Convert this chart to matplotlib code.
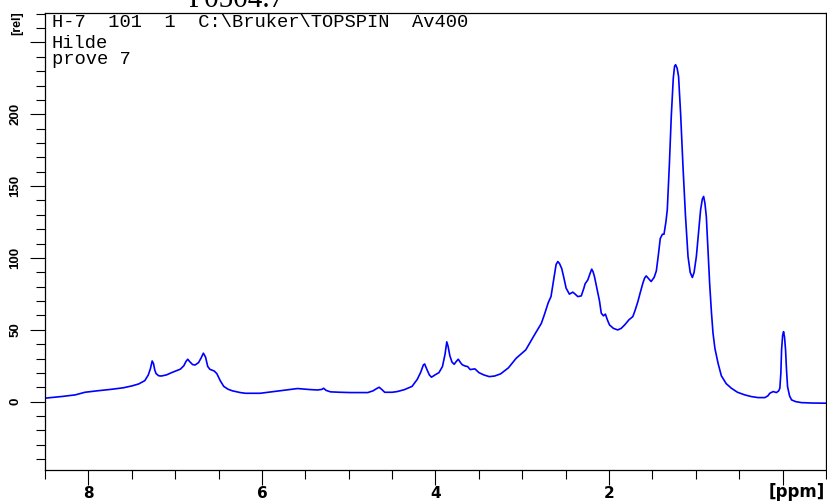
import matplotlib
matplotlib.use('Agg')
import matplotlib.pyplot as plt
from matplotlib.ticker import MultipleLocator, FixedLocator

# 1H NMR spectrum (ppm, intensity)
ppm = [8.50, 8.30, 8.15, 8.04, 7.90, 7.73, 7.60, 7.50, 7.42, 7.35,
       7.31, 7.285, 7.265, 7.25, 7.235, 7.22, 7.19, 7.16, 7.10, 7.04,
       6.94, 6.90, 6.875, 6.855, 6.835, 6.80, 6.77, 6.73, 6.70, 6.675,
       6.65, 6.625, 6.60, 6.55, 6.52, 6.48, 6.44, 6.39, 6.34, 6.25,
       6.19, 6.02, 5.86, 5.72, 5.59, 5.45, 5.36, 5.31, 5.29, 5.26,
       5.21, 5.10, 4.98, 4.78, 4.72, 4.68, 4.65, 4.62, 4.585, 4.50,
       4.44, 4.36, 4.32, 4.27, 4.21, 4.17, 4.14, 4.125, 4.10, 4.07,
       4.046, 4.00, 3.96, 3.92, 3.89, 3.87, 3.855, 3.835, 3.81, 3.785,
       3.76, 3.738, 3.71, 3.69, 3.66, 3.63, 3.60, 3.57, 3.546, 3.50,
       3.44, 3.38, 3.32, 3.25, 3.16, 3.07, 2.96, 2.86, 2.78, 2.746,
       2.70, 2.669, 2.645, 2.63, 2.61, 2.59, 2.57, 2.545, 2.52, 2.495,
       2.457, 2.418, 2.39, 2.36, 2.32, 2.29, 2.276, 2.245, 2.22, 2.20,
       2.185, 2.168, 2.137, 2.11, 2.09, 2.065, 2.042, 2.02, 1.995, 1.95,
       1.90, 1.86, 1.82, 1.77, 1.726, 1.70, 1.668, 1.64, 1.61, 1.59,
       1.572, 1.55, 1.515, 1.48, 1.455, 1.43, 1.41, 1.385, 1.367, 1.345,
       1.329, 1.305, 1.283, 1.26, 1.245, 1.233, 1.215, 1.199, 1.175, 1.148,
       1.12, 1.09, 1.065, 1.04, 1.02, 0.994, 0.97, 0.945, 0.925, 0.91,
       0.895, 0.879, 0.86, 0.841, 0.82, 0.802, 0.78, 0.744, 0.706, 0.65,
       0.59, 0.52, 0.437, 0.36, 0.282, 0.205, 0.17, 0.148, 0.109, 0.071,
       0.045, 0.032, 0.02, 0.012, 0.00, -0.011, -0.022, -0.034, -0.045, -0.057,
       -0.08, -0.103, -0.15, -0.218, -0.35, -0.51]
intensity = [2.4, 3.6, 4.7, 6.5, 7.5, 8.6, 9.6, 10.9, 12.3, 14.6,
             18.5, 23.0, 28.3, 26.5, 22.0, 19.5, 18.0, 17.8, 18.6, 20.2,
             22.6, 25.0, 28.0, 29.5, 28.0, 25.8, 25.5, 27.2, 30.5, 33.7,
             31.0, 24.5, 22.5, 21.3, 19.5, 14.5, 10.6, 8.6, 7.5, 6.3,
             5.8, 5.8, 7.0, 8.0, 9.1, 8.4, 8.1, 8.5, 9.3, 7.8,
             6.8, 6.5, 6.3, 6.3, 7.5, 9.0, 10.0, 8.5, 6.5, 6.5,
             7.0, 8.3, 9.3, 10.6, 15.5, 20.5, 25.5, 26.2, 22.5, 18.5,
             17.0, 18.8, 20.2, 24.4, 33.0, 41.6, 38.5, 32.0, 27.5, 26.0,
             28.0, 29.5, 27.0, 25.6, 24.8, 24.4, 22.3, 22.6, 22.8, 20.2,
             18.5, 17.4, 17.8, 19.3, 23.5, 30.2, 36.0, 46.4, 54.5, 60.4,
             69.0, 73.1, 82.0, 88.0, 95.5, 97.5, 96.0, 92.5, 86.0, 79.0,
             74.8, 76.2, 74.8, 73.1, 73.6, 79.0, 82.0, 84.7, 89.0, 92.2,
             90.5, 87.0, 77.8, 70.0, 61.6, 59.7, 60.9, 57.0, 53.4, 51.0,
             49.9, 51.0, 53.4, 57.0, 59.2, 63.5, 69.6, 76.0, 82.5, 86.0,
             87.5, 86.0, 83.6, 86.5, 91.0, 103.0, 113.5, 116.5, 116.5, 125.0,
             133.5, 165.0, 198.5, 225.0, 233.5, 234.5, 232.0, 226.3, 200.0, 163.6,
             130.0, 101.0, 90.0, 86.4, 90.0, 101.0, 117.0, 133.5, 141.0, 142.8,
             138.0, 128.8, 105.0, 82.4, 62.0, 47.6, 37.0, 26.7, 18.0, 12.5,
             9.3, 6.5, 4.7, 3.5, 2.8, 2.8, 4.0, 5.8, 7.0, 6.3,
             7.5, 9.3, 20.0, 36.0, 46.0, 48.7, 45.0, 36.0, 22.0, 10.4,
             4.0, 1.2, 0.0, -0.7, -1.0, -1.1]

yTicks = [0, 50, 100, 150, 200, 250]
yTickLabels = ['0', '50', '100', '150', '200', '']
# the 0 ppm tick has no label, the unit sits there instead
xTicks = [8, 6, 4, 2, 0]
xTickLabels = ['8', '6', '4', '2', '']

headerLines = ['H-7  101  1  C:\\Bruker\\TOPSPIN  Av400', 'Hilde', 'prove 7']

fig = plt.figure(figsize=(8.28, 5.03), dpi=100)
ax = fig.add_axes([45 / 828, 1 - 470 / 503, 781 / 828, 457 / 503])

ax.plot(ppm, intensity, color='#0000ff', linewidth=1.2)

ax.set_xlim(8.5, -0.5)
ax.set_ylim(-47.6, 270.5)

# ticks
ax.xaxis.set_major_locator(FixedLocator(xTicks))
ax.xaxis.set_minor_locator(MultipleLocator(0.5))
ax.set_xticklabels(xTickLabels, fontfamily='DejaVu Sans', fontweight='bold', fontsize=11)
ax.yaxis.set_major_locator(FixedLocator(yTicks))
ax.yaxis.set_minor_locator(MultipleLocator(10))
ax.set_yticklabels(yTickLabels, fontfamily='Liberation Sans', fontweight='bold',
                   fontsize=9.5, rotation=90, va='center')

ax.tick_params(axis='both', which='major', direction='out', length=11, width=0.8)
ax.tick_params(axis='both', which='minor', direction='out', length=6.5, width=0.8)
ax.tick_params(axis='x', which='major', pad=0.5)
ax.tick_params(axis='y', which='major', pad=6)

for s in ax.spines.values():
    s.set_linewidth(0.9)

# header text (Bruker style)
ax.text(7 / 781, 1 - 14 / 457, headerLines[0], transform=ax.transAxes,
        fontfamily='Liberation Mono', fontsize=13.5, va='baseline')
ax.text(7 / 781, 1 - 35 / 457, headerLines[1], transform=ax.transAxes,
        fontfamily='Liberation Mono', fontsize=13.5, va='baseline')
ax.text(7 / 781, 1 - 51 / 457, headerLines[2], transform=ax.transAxes,
        fontfamily='Liberation Mono', fontsize=13.5, va='baseline')

# axis units
fig.text(825 / 828, 1 - 497 / 503, '[ppm]', ha='right', va='baseline',
         fontfamily='DejaVu Sans', fontweight='bold', fontsize=12)
fig.text(17.5 / 828, 1 - 23.5 / 503, '[rel]', ha='center', va='center', rotation=90,
         fontfamily='Liberation Sans', fontweight='bold', fontsize=9)

# cut off title at the very top
fig.text(188 / 828, 1 - 7 / 503, 'P0504.7', ha='left', va='baseline',
         fontfamily='Liberation Serif', fontsize=21)

plt.savefig('out.png', dpi=100)
